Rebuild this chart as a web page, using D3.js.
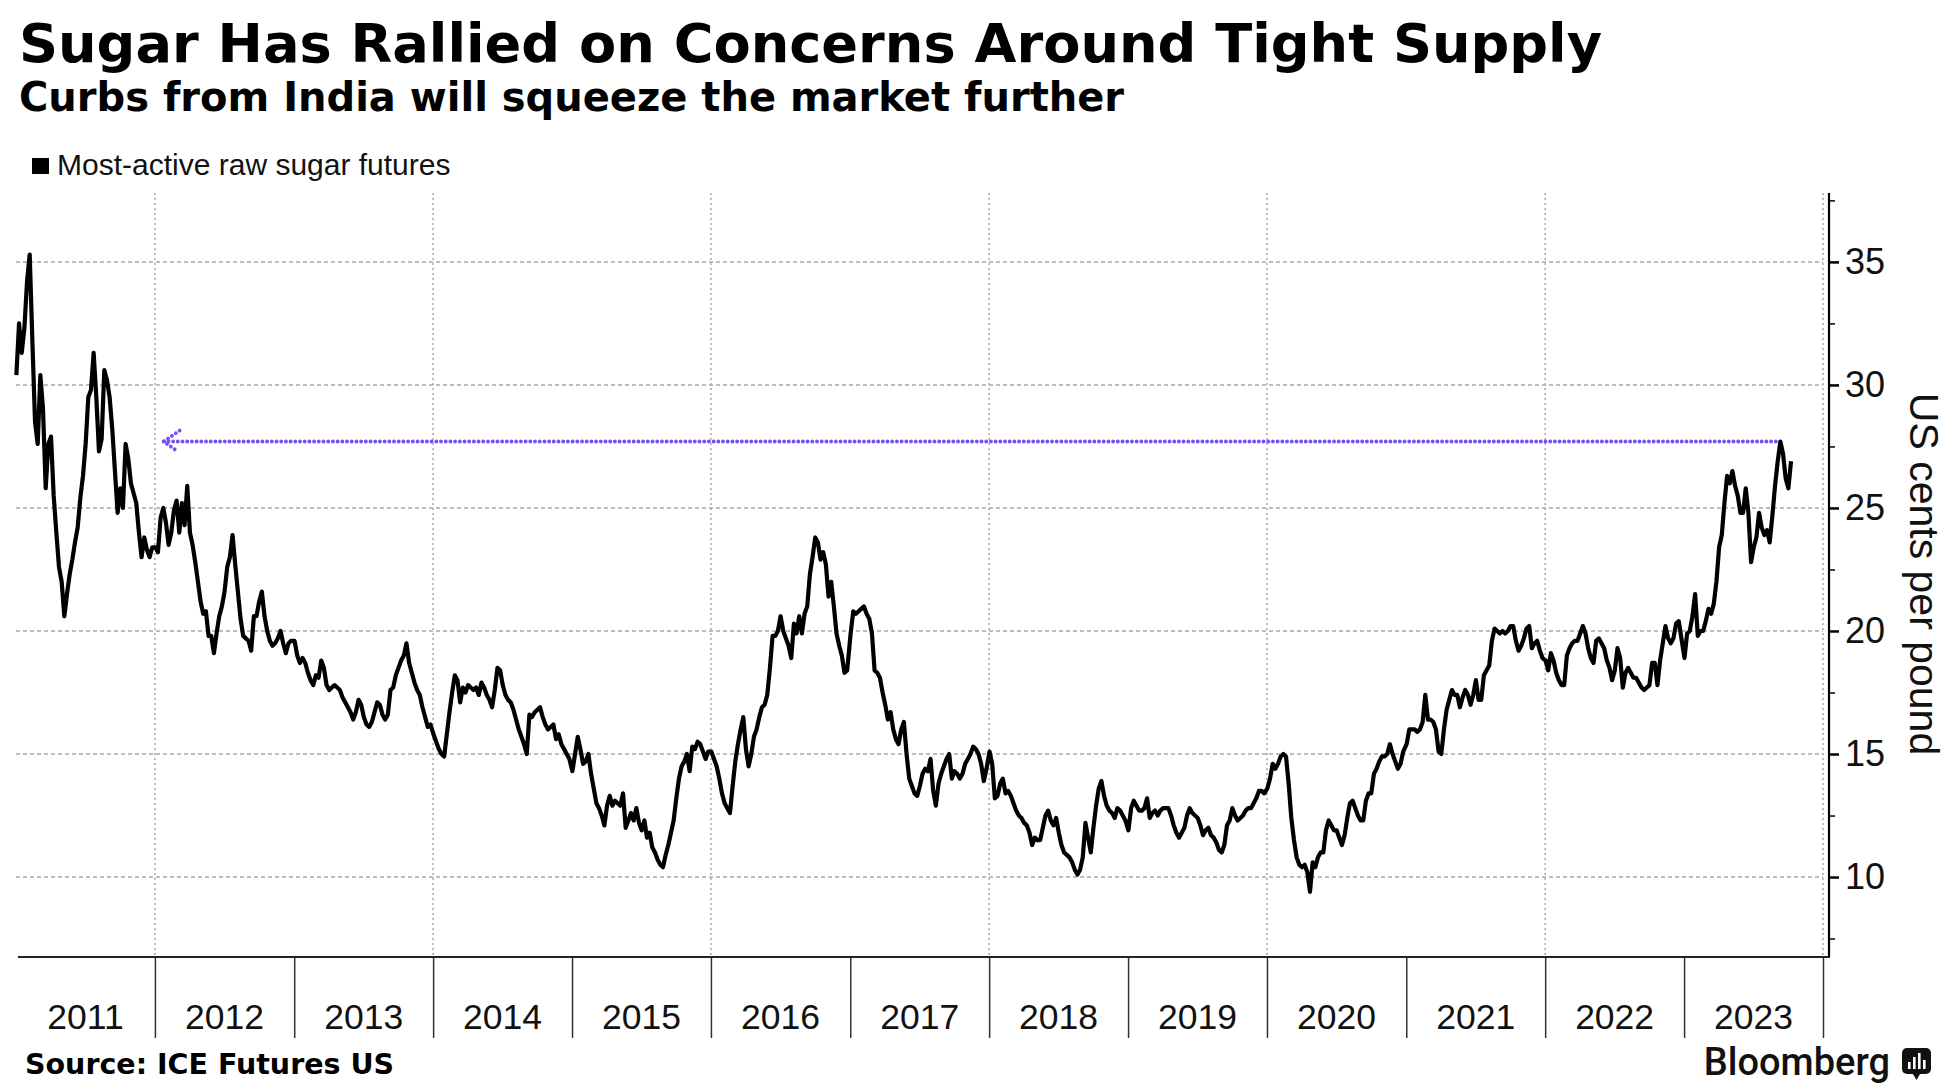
<!DOCTYPE html>
<html>
<head>
<meta charset="utf-8">
<script src="https://cdn.jsdelivr.net/npm/d3@7"></script>
<style>
  body { margin: 0; background: #fff; }
  svg { display: block; }
</style>
</head>
<body>
<svg id="drawing_region"></svg>
<script>
// weekly closes, one array per year (first value ~Jan 2)
const sugar2011 = [30.4, 32.5, 31.3, 32.3, 34.2, 35.3, 31.8, 28.5, 27.6, 30.4, 29.0, 25.8, 27.6, 27.9, 25.5, 24.0, 22.6, 22.0, 20.6, 21.5, 22.3, 22.9, 23.6, 24.2, 25.4, 26.3, 27.6, 29.5, 29.8, 31.3, 29.5, 27.3, 27.8, 30.6, 30.2, 29.5, 28.2, 26.5, 24.8, 25.8, 25.0, 27.6, 27.0, 26.0, 25.6, 25.2, 24.0, 23.0, 23.8, 23.3, 23.0, 23.4];
const sugar2012 = [23.4, 23.2, 24.6, 25.0, 24.4, 23.5, 24.0, 24.9, 25.3, 24.0, 25.2, 24.3, 25.9, 24.0, 23.5, 22.8, 22.0, 21.2, 20.7, 20.8, 19.8, 19.8, 19.1, 19.9, 20.6, 21.0, 21.6, 22.6, 23.0, 23.9, 22.7, 21.6, 20.5, 19.8, 19.7, 19.6, 19.2, 20.6, 20.6, 21.2, 21.6, 20.6, 20.0, 19.6, 19.4, 19.5, 19.7, 20.0, 19.5, 19.1, 19.5, 19.6];
const sugar2013 = [19.6, 19.0, 18.7, 18.9, 18.7, 18.3, 18.0, 17.8, 18.2, 18.1, 18.8, 18.5, 17.8, 17.6, 17.7, 17.8, 17.7, 17.6, 17.3, 17.1, 16.9, 16.7, 16.4, 16.7, 17.2, 17.0, 16.5, 16.2, 16.1, 16.3, 16.7, 17.1, 17.0, 16.6, 16.4, 16.6, 17.6, 17.7, 18.2, 18.5, 18.8, 19.0, 19.5, 18.7, 18.3, 17.9, 17.6, 17.4, 16.9, 16.5, 16.1, 16.2];
const sugar2014 = [15.8, 15.5, 15.2, 15.0, 14.9, 15.8, 16.7, 17.5, 18.2, 18.0, 17.1, 17.7, 17.5, 17.8, 17.7, 17.6, 17.7, 17.4, 17.9, 17.7, 17.4, 17.2, 16.9, 17.6, 18.5, 18.4, 17.8, 17.4, 17.2, 17.1, 16.8, 16.4, 16.0, 15.7, 15.4, 15.0, 16.6, 16.5, 16.7, 16.8, 16.9, 16.5, 16.2, 16.0, 16.1, 16.2, 15.6, 15.8, 15.4, 15.2, 15.0, 14.8];
const sugar2015 = [14.3, 15.0, 15.7, 15.2, 14.6, 14.7, 15.0, 14.2, 13.6, 13.0, 12.8, 12.5, 12.1, 12.9, 13.3, 12.9, 13.1, 13.0, 12.9, 13.4, 12.0, 12.3, 12.6, 12.3, 12.8, 12.2, 11.9, 12.3, 11.6, 11.8, 11.2, 11.0, 10.7, 10.5, 10.4, 10.9, 11.3, 11.8, 12.3, 13.2, 14.0, 14.5, 14.7, 15.0, 14.3, 15.3, 15.2, 15.5, 15.4, 15.1, 14.8, 15.1];
const sugar2016 = [15.1, 14.8, 14.5, 14.0, 13.4, 13.0, 12.8, 12.6, 13.7, 14.7, 15.4, 16.0, 16.5, 15.2, 14.5, 15.0, 15.7, 16.0, 16.5, 16.9, 17.0, 17.4, 18.5, 19.8, 19.8, 20.0, 20.6, 20.0, 19.7, 19.4, 18.9, 20.3, 19.9, 20.6, 19.9, 20.7, 21.0, 22.3, 23.0, 23.8, 23.6, 22.9, 23.2, 22.7, 21.4, 22.0, 21.0, 19.9, 19.4, 19.0, 18.3, 18.4];
const sugar2017 = [19.9, 20.8, 20.7, 20.8, 20.9, 21.0, 20.7, 20.5, 19.9, 18.4, 18.3, 18.1, 17.5, 17.0, 16.4, 16.7, 16.0, 15.6, 15.4, 16.0, 16.3, 15.0, 14.0, 13.7, 13.4, 13.3, 13.7, 14.2, 14.4, 14.3, 14.8, 13.5, 12.9, 13.8, 14.2, 14.5, 14.8, 15.0, 14.0, 14.3, 14.2, 14.0, 14.2, 14.6, 14.8, 15.0, 15.3, 15.2, 15.0, 14.6, 13.9, 14.4];
const sugar2018 = [15.1, 14.6, 13.2, 13.3, 13.8, 14.0, 13.4, 13.5, 13.3, 13.0, 12.7, 12.5, 12.4, 12.2, 12.1, 11.8, 11.3, 11.6, 11.5, 11.5, 12.0, 12.5, 12.7, 12.3, 12.1, 12.4, 11.8, 11.3, 11.0, 10.9, 10.8, 10.6, 10.3, 10.1, 10.3, 10.8, 12.2, 11.6, 11.0, 12.0, 12.9, 13.6, 13.9, 13.3, 12.9, 12.7, 12.6, 12.4, 12.8, 12.7, 12.5, 12.3];
const sugar2019 = [11.9, 12.8, 13.1, 12.9, 12.7, 12.7, 12.8, 13.2, 12.4, 12.6, 12.7, 12.5, 12.7, 12.8, 12.8, 12.8, 12.5, 12.1, 11.8, 11.6, 11.8, 12.0, 12.5, 12.8, 12.6, 12.5, 12.4, 12.1, 11.7, 11.9, 12.0, 11.7, 11.6, 11.4, 11.1, 11.0, 11.3, 12.1, 12.3, 12.8, 12.5, 12.3, 12.4, 12.5, 12.7, 12.8, 12.8, 13.0, 13.2, 13.5, 13.5, 13.4];
const sugar2020 = [13.6, 14.0, 14.6, 14.4, 14.6, 14.9, 15.0, 14.9, 13.8, 12.4, 11.5, 10.8, 10.5, 10.4, 10.5, 10.2, 9.4, 10.6, 10.4, 10.8, 11.0, 11.0, 11.9, 12.3, 12.1, 11.9, 11.9, 11.6, 11.3, 11.7, 12.4, 13.0, 13.1, 12.8, 12.5, 12.3, 12.3, 13.1, 13.4, 13.4, 14.2, 14.4, 14.7, 14.9, 14.9, 15.0, 15.4, 15.0, 14.7, 14.4, 14.6, 15.1];
const sugar2021 = [15.4, 16.0, 16.0, 16.0, 15.9, 16.0, 16.3, 17.4, 16.4, 16.4, 16.3, 16.0, 15.1, 15.0, 16.0, 16.8, 17.2, 17.6, 17.4, 17.4, 16.9, 17.3, 17.6, 17.4, 17.0, 17.4, 18.0, 17.2, 17.2, 18.2, 18.4, 18.6, 19.6, 20.1, 20.0, 19.9, 20.0, 19.9, 20.0, 20.2, 20.2, 19.6, 19.2, 19.4, 19.7, 20.1, 20.2, 19.3, 19.5, 19.6, 19.2, 18.9];
const sugar2022 = [18.8, 18.4, 19.1, 18.8, 18.3, 18.0, 17.8, 17.8, 19.0, 19.3, 19.5, 19.6, 19.6, 19.9, 20.2, 19.9, 19.3, 18.9, 18.7, 19.6, 19.7, 19.5, 19.3, 18.8, 18.5, 18.0, 18.4, 19.3, 18.9, 17.7, 18.3, 18.5, 18.3, 18.1, 18.1, 17.9, 17.7, 17.6, 17.7, 17.8, 18.7, 18.7, 17.8, 18.8, 19.5, 20.2, 19.7, 19.5, 19.7, 20.3, 20.4, 19.7];
const sugar2023 = [18.9, 19.9, 20.0, 20.6, 21.5, 19.8, 20.0, 20.0, 20.4, 20.9, 20.7, 21.1, 22.0, 23.4, 23.9, 25.2, 26.3, 26.0, 26.5, 25.9, 25.5, 24.8, 24.8, 25.8, 24.8, 22.8, 23.4, 23.8, 24.8, 24.2, 23.9, 24.1, 23.6, 24.7, 25.9, 26.9, 27.7, 27.2, 26.2, 25.8, 26.9];

const seriesYears = [2011, 2012, 2013, 2014, 2015, 2016, 2017, 2018, 2019, 2020, 2021, 2022, 2023];
const seriesValues = [sugar2011, sugar2012, sugar2013, sugar2014, sugar2015, sugar2016, sugar2017,
                      sugar2018, sugar2019, sugar2020, sugar2021, sugar2022, sugar2023];

const yearLabels = ["2011", "2012", "2013", "2014", "2015", "2016", "2017", "2018", "2019", "2020", "2021", "2022", "2023"];
const yTicks = [10, 15, 20, 25, 30, 35];
const yMinorTicks = [7.5, 12.5, 17.5, 22.5, 27.5, 32.5, 37.5];

// "back to the level of" marker
const markerFrom = "2012-01-24";
const markerTo = "2023-09-11";
const markerValue = 27.7;

const parseDate = d3.timeParse("%Y-%m-%d");

let data = [];
seriesYears.forEach( (yr, i) => {
    seriesValues[i].forEach( (v, k) => {
        data.push({ date: new Date(yr, 0, 2 + 7 * k), value: v });
    });
});

var config = {
    parent: '#drawing_region',
    width: 1950,
    height: 1090,
    plot: {left: 16, right: 1823, top: 193, bottom: 957},
    axisX: 1829
};

class SugarChart {

    constructor( config, data ) {
        this.config = config;
        this.data = data;
        this.init();
    }

    init() {
        let self = this;
        const p = self.config.plot;

        self.svg = d3.select( self.config.parent )
            .attr('width', self.config.width)
            .attr('height', self.config.height);

        self.xscale = d3.scaleTime()
            .domain([new Date(2011, 0, 1), new Date(2024, 0, 1)])
            .range([p.left, p.right]);

        self.yscale = d3.scaleLinear()
            .domain([6.75, 37.8])
            .range([p.bottom, p.top]);
    }

    update() {
        this.render();
    }

    render() {
        let self = this;
        const p = self.config.plot;
        const x = self.xscale, y = self.yscale;
        const svg = self.svg;

        // titles
        svg.append('text')
            .attr('x', 19).attr('y', 62)
            .style('font-family', 'DejaVu Sans').style('font-weight', 'bold')
            .style('font-size', '54.2px')
            .text('Sugar Has Rallied on Concerns Around Tight Supply');

        svg.append('text')
            .attr('x', 19).attr('y', 111)
            .style('font-family', 'DejaVu Sans').style('font-weight', 'bold')
            .style('font-size', '40px')
            .text('Curbs from India will squeeze the market further');

        // legend
        svg.append('rect')
            .attr('x', 32).attr('y', 158).attr('width', 17).attr('height', 16)
            .attr('fill', '#000');
        svg.append('text')
            .attr('x', 57).attr('y', 175)
            .style('font-family', 'Liberation Sans').style('font-size', '30px')
            .attr('fill', '#111')
            .text('Most-active raw sugar futures');

        // gridlines
        svg.append('g')
            .selectAll('line')
            .data(yTicks)
            .join('line')
            .attr('x1', p.left).attr('x2', p.right)
            .attr('y1', d => y(d)).attr('y2', d => y(d))
            .attr('stroke', '#a8a8a8')
            .attr('stroke-width', 1.5)
            .attr('stroke-dasharray', '4,3');

        const gridYears = d3.range(2012, 2025, 2).map(yr => new Date(yr, 0, 1));
        svg.append('g')
            .selectAll('line')
            .data(gridYears)
            .join('line')
            .attr('x1', d => x(d)).attr('x2', d => x(d))
            .attr('y1', p.top).attr('y2', p.bottom)
            .attr('stroke', '#a8a8a8')
            .attr('stroke-width', 1.5)
            .attr('stroke-dasharray', '2,3');

        // x axis
        const xAxis = d3.axisBottom(x)
            .tickValues(d3.range(2012, 2025).map(yr => new Date(yr, 0, 1)))
            .tickSize(81)
            .tickFormat('');
        const gx = svg.append('g')
            .attr('transform', `translate(0, ${p.bottom})`)
            .call(xAxis);
        gx.select('.domain').remove();
        gx.selectAll('.tick line').attr('stroke', '#333').attr('stroke-width', 1.5);

        svg.append('line')
            .attr('x1', 18).attr('x2', self.config.axisX + 1)
            .attr('y1', p.bottom).attr('y2', p.bottom)
            .attr('stroke', '#222').attr('stroke-width', 2.2);

        svg.append('g')
            .selectAll('text')
            .data(yearLabels)
            .join('text')
            .attr('x', d => (x(new Date(+d, 0, 1)) + x(new Date(+d + 1, 0, 1))) / 2)
            .attr('y', 1029)
            .attr('text-anchor', 'middle')
            .style('font-family', 'Liberation Sans').style('font-size', '35.5px')
            .attr('fill', '#111')
            .text(d => d);

        // y axis
        const yAxis = d3.axisRight(y)
            .tickValues(yTicks)
            .tickSize(10)
            .tickPadding(6)
            .tickFormat(d3.format('d'));
        const gy = svg.append('g')
            .attr('transform', `translate(${self.config.axisX}, 0)`)
            .call(yAxis);
        gy.select('.domain').remove();
        gy.selectAll('.tick line').attr('stroke', '#000').attr('stroke-width', 2.5);
        gy.selectAll('.tick text')
            .style('font-family', 'Liberation Sans').style('font-size', '36px')
            .attr('fill', '#111');

        const yMinor = d3.axisRight(y)
            .tickValues(yMinorTicks)
            .tickSize(6)
            .tickFormat('');
        const gym = svg.append('g')
            .attr('transform', `translate(${self.config.axisX}, 0)`)
            .call(yMinor);
        gym.select('.domain').remove();
        gym.selectAll('.tick line').attr('stroke', '#000').attr('stroke-width', 1.5);

        svg.append('line')
            .attr('x1', self.config.axisX).attr('x2', self.config.axisX)
            .attr('y1', p.top).attr('y2', p.bottom)
            .attr('stroke', '#000').attr('stroke-width', 2.2);

        svg.append('text')
            .attr('transform', `translate(1910, ${(p.top + p.bottom) / 2 - 1}) rotate(90)`)
            .attr('text-anchor', 'middle')
            .style('font-family', 'Liberation Sans').style('font-size', '41px')
            .attr('fill', '#111')
            .text('US cents per pound');

        // price line
        const line = d3.line()
            .x(d => x(d.date))
            .y(d => y(d.value));

        svg.append('path')
            .datum(self.data)
            .attr('d', line)
            .attr('fill', 'none')
            .attr('stroke', '#000')
            .attr('stroke-width', 4.2)
            .attr('stroke-linejoin', 'round');

        // dotted marker with arrow
        const mx0 = x(parseDate(markerFrom)), mx1 = x(parseDate(markerTo)), my = y(markerValue);
        const marker = svg.append('g')
            .attr('fill', 'none')
            .attr('stroke', '#7a4ff2')
            .attr('stroke-width', 3.8)
            .attr('stroke-linecap', 'round')
            .attr('stroke-dasharray', '0.1,4.6');
        marker.append('line')
            .attr('x1', mx0).attr('x2', mx1)
            .attr('y1', my).attr('y2', my);
        marker.append('path')
            .attr('d', `M${mx0 + 16},${my - 11}L${mx0},${my}L${mx0 + 14},${my + 10}`);

        // footer
        svg.append('text')
            .attr('x', 25).attr('y', 1074)
            .style('font-family', 'DejaVu Sans').style('font-weight', 'bold')
            .style('font-size', '28.5px')
            .text('Source: ICE Futures US');

        svg.append('text')
            .attr('x', 1890).attr('y', 1075)
            .attr('text-anchor', 'end')
            .style('font-family', 'Roboto').style('font-weight', 500)
            .style('font-size', '38px')
            .attr('fill', '#111')
            .text('Bloomberg');

        const logo = svg.append('g').attr('transform', 'translate(1902, 1048)');
        logo.append('rect')
            .attr('width', 29).attr('height', 26).attr('rx', 5)
            .attr('fill', '#111');
        logo.append('path')
            .attr('d', 'M11,26L14.5,32L18,26Z')
            .attr('fill', '#111');
        logo.selectAll('.bar')
            .data([[6, 14], [11, 9], [16, 5], [21, 12]])
            .join('rect')
            .attr('x', d => d[0]).attr('y', d => d[1])
            .attr('width', 2.6).attr('height', d => 21 - d[1])
            .attr('fill', '#fff');
    }
}

const chart = new SugarChart( config, data );
chart.update();
</script>
</body>
</html>
